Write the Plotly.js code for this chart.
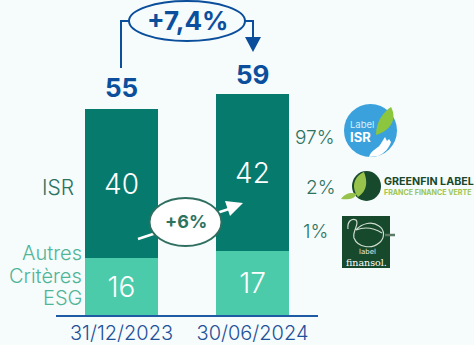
<!DOCTYPE html>
<html><head><meta charset="utf-8">
<script src="https://cdn.plot.ly/plotly-3.0.1.min.js"></script>
<style>html,body{margin:0;padding:0;background:#f6fbfc;overflow:hidden}#c{width:474px;height:345px}</style>
</head><body><div id="c"></div>
<script>
const dates = ['31/12/2023', '30/06/2024'];
const isrValues = [39.8, 42];
const otherValues = [15.2, 17];
const isrLabels = ['40', '42'];
const otherLabels = ['16', '17'];
const totals = ['55', '59'];
const growthTotal = '+7,4%';
const growthIsr = '+6%';
const labelShares = ['97%', '2%', '1%'];

const W = 474, H = 345;
const BLUE = '#0b4f9c', DARK = '#077a6e', LIGHT = '#4ccbab', TXT = '#2c7360', SOFT = '#4fb598', FONT = 'Inter, "Open Sans", sans-serif';
const X = p => p / W, Y = p => 1 - p / H;
const path = pts => pts.map((p, i) => (i ? 'L' : 'M') + X(p[0]) + ',' + Y(p[1])).join(' ');
const curve = s => s.replace(/(-?[\d.]+),(-?[\d.]+)/g, (m, a, b) => X(+a) + ',' + Y(+b));
const base = {xref: 'paper', yref: 'paper'};
const ell = (x0, y0, x1, y1, fill, lc, lw) => ({...base, type: 'circle', x0: X(x0), x1: X(x1), y0: Y(y0), y1: Y(y1), fillcolor: fill, line: {color: lc || fill, width: lw || 0}});
const rect = (x0, y0, x1, y1, fill) => ({...base, type: 'rect', x0: X(x0), x1: X(x1), y0: Y(y0), y1: Y(y1), fillcolor: fill, line: {width: 0}});
const pth = (d, fill, lc, lw) => ({...base, type: 'path', path: d, fillcolor: fill || 'rgba(0,0,0,0)', line: {color: lc || 'rgba(0,0,0,0)', width: lw || 0}});
const note = (t, x, y, size, color, anchor, family, weight) => ({...base, text: t, x: X(x), y: Y(y), xanchor: anchor || 'center', yanchor: 'middle', showarrow: false, borderpad: 0, font: {family: family || FONT, size, color, weight: weight || 400}});
const sp = (t, size, color) => '<span style="font-size:' + size + 'px;color:' + color + '">' + t + '</span>';

const shapes = [
  // total bracket
  pth(path([[121, 68], [121, 21], [130, 21]]), null, BLUE, 2),
  pth(path([[243, 21], [253, 21], [253, 38]]), null, BLUE, 2),
  pth(path([[245, 37], [261, 37], [253, 52]]) + ' Z', BLUE),
  ell(129, 1, 245, 41, '#f6fbfc', BLUE, 2),
  // ISR growth arrow
  pth(path([[138, 239], [232, 208]]), null, '#ffffff', 2.5),
  pth(path([[243, 203], [225, 201], [230, 216]]) + ' Z', '#ffffff'),
  ell(149.5, 198, 221.5, 246, '#ffffff', '#2f6f5f', 2),
  // Label ISR logo
  ell(344, 104, 397, 157, '#3aa1dc'),
  pth(curve('M376,135 C376,122 383,112 391,107 C397,118 392,130 376,135 Z'), '#8cc63f'),
  pth(curve('M369,157 C371,150 377,149 380,145 L385,137 L387,141 L389,139 L391,142 C389,148 385,153 378,156 Z'), '#ffffff'),
  // Greenfin logo
  ell(352, 171, 381, 201, '#17492c'),
  pth(curve('M358,197 C350,186 355,176 364,172 C368,182 367,191 358,197 Z'), '#97c24b'),
  pth(curve('M341,199 C345,193 352,192 357,194 C354,199 348,200 341,199 Z'), '#97c24b'),
  // Finansol logo
  rect(342, 216, 390, 268, '#17492c'),
  pth(curve('M348,229 C347,221 352,218 356,220 C360,224 352,231 354,238 C358,248 372,249 379,243 C385,238 385,230 379,226 C372,221 362,223 356,230 C366,226 374,228 382,233'), null, '#cfdcd0', 1.2),
  pth(path([[385, 235], [395, 235]]), null, '#5c7a66', 2.5)
];

const annotations = [
  note('<b>' + growthTotal + '</b>', 187, 21, 26, BLUE),
  note('<b>' + totals[0] + '</b>', 121, 88, 26, BLUE),
  note('<b>' + totals[1] + '</b>', 253, 74, 26, BLUE),
  note('<b>' + growthIsr + '</b>', 186, 222, 18, TXT),
  note('ISR', 75, 187, 21, TXT, 'right', null, 300),
  note('Autres', 83, 253, 20, SOFT, 'right', null, 300),
  note('Critères', 83, 275.5, 20, SOFT, 'right', null, 300),
  note('ESG', 83, 298, 20, SOFT, 'right', null, 300),
  note(labelShares[0], 336, 137, 19, TXT, 'right', null, 300),
  note(labelShares[1], 336, 187, 19, TXT, 'right', null, 300),
  note(labelShares[2], 329, 231, 19, TXT, 'right', null, 300),
  note('Label', 349, 124, 9.5, '#d9eefa', 'left'),
  note('<b>ISR</b>', 349, 137, 13, '#ffffff', 'left'),
  Object.assign(note(sp('<b>GREENFIN LABEL</b>', 10.7, '#17492c') + '<br>' + sp('<b>FRANCE FINANCE VERTE</b>', 7.1, '#9cc653'), 382.5, 186, 7.6, '#17492c', 'left'), {align: 'left'}),
  note('label', 367, 251.5, 7, '#e6efe6', 'center', '"DejaVu Sans", sans-serif'),
  note('finansol.', 366, 262.5, 9.5, '#ffffff', 'center', '"DejaVu Serif", serif')
];

const common = {type: 'bar', x: dates, width: 0.557, textposition: 'inside', insidetextanchor: 'middle', textangle: 0,
  constraintext: 'none', hoverinfo: 'skip',
  insidetextfont: {family: FONT, size: 28, color: '#ffffff', weight: 300}};

const traces = [
  {...common, name: 'Autres Critères ESG', y: otherValues, text: otherLabels, marker: {color: LIGHT, line: {width: 0}}},
  {...common, name: 'ISR', y: isrValues, text: isrLabels, marker: {color: DARK, line: {width: 0}}}
];

Plotly.newPlot('c', traces, {
  width: W, height: H, barmode: 'stack', showlegend: false,
  margin: {l: 0, r: 0, t: 0, b: 0},
  paper_bgcolor: '#f6fbfc', plot_bgcolor: 'rgba(0,0,0,0)',
  xaxis: {domain: [56 / W, 318 / W], type: 'category', range: [-0.5, 1.5], showgrid: false, zeroline: false,
    showline: true, linecolor: '#1f5aa5', linewidth: 2, ticks: '', ticklabelstandoff: -1,
    tickfont: {family: FONT, size: 20, color: '#1f5199', weight: 300}},
  yaxis: {domain: [30 / H, 1], range: [0, 84.2], visible: false, showgrid: false, zeroline: false},
  shapes, annotations
}, {staticPlot: true, displayModeBar: false});
</script></body></html>
